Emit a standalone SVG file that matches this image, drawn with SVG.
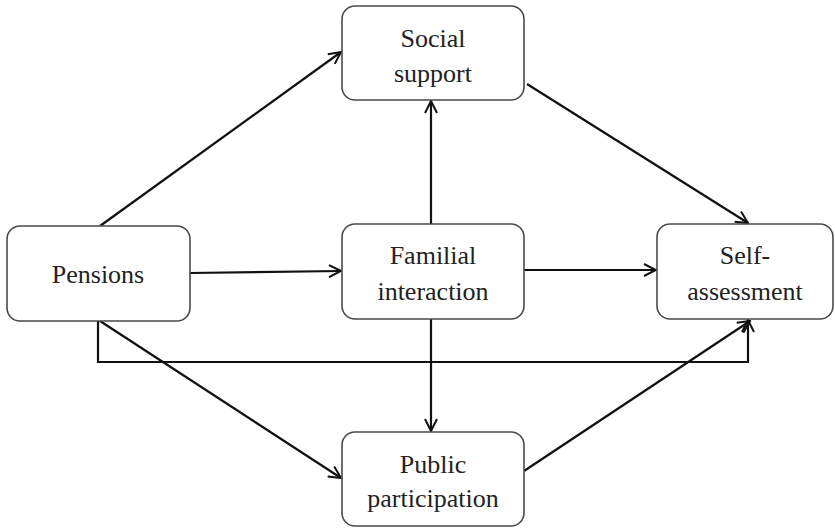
<svg xmlns="http://www.w3.org/2000/svg" width="835" height="528" viewBox="0 0 835 528">
<defs>
<marker id="arr" viewBox="0 0 14 14" refX="13" refY="7" markerWidth="14" markerHeight="14" markerUnits="userSpaceOnUse" orient="auto">
<path d="M1,1 L13,7 L1,13" fill="none" stroke="#111" stroke-width="2"/>
</marker>
</defs>
<style>
.box{fill:#fff;stroke:#4a4a4a;stroke-width:1.6}
.t{font-family:"Liberation Serif","Times New Roman",serif;font-size:26px;fill:#222;text-anchor:middle}
.c{fill:none;stroke:#111;stroke-width:2.2}
</style>
<rect width="835" height="528" fill="#fff"/>
<g id="connectors">
<line class="c" x1="100" y1="226" x2="341" y2="52" marker-end="url(#arr)"/>
<line class="c" x1="190" y1="273" x2="341" y2="271" marker-end="url(#arr)"/>
<line class="c" x1="431" y1="224" x2="431" y2="101" marker-end="url(#arr)"/>
<line class="c" x1="527" y1="84" x2="748" y2="223" marker-end="url(#arr)"/>
<line class="c" x1="524" y1="270" x2="656" y2="270" marker-end="url(#arr)"/>
<line class="c" x1="431" y1="319" x2="431" y2="431" marker-end="url(#arr)"/>
<polyline class="c" points="98,321 98,362 748,362 748,320" marker-end="url(#arr)"/>
<line class="c" x1="100" y1="321" x2="341" y2="478" marker-end="url(#arr)"/>
<line class="c" x1="524" y1="471" x2="750" y2="321" marker-end="url(#arr)"/>
</g>
<g id="pensions">
<rect class="box" x="7" y="226" width="183" height="95" rx="13"/>
<text class="t" x="98" y="283">Pensions</text>
</g>
<g id="social-support">
<rect class="box" x="342" y="6" width="182" height="94" rx="13"/>
<text class="t" x="433" y="47">Social</text>
<text class="t" x="433" y="82">support</text>
</g>
<g id="familial-interaction">
<rect class="box" x="342" y="224" width="182" height="95" rx="13"/>
<text class="t" x="433" y="264">Familial</text>
<text class="t" x="433" y="300">interaction</text>
</g>
<g id="self-assessment">
<rect class="box" x="657" y="224" width="176" height="95" rx="13"/>
<text class="t" x="745" y="264">Self-</text>
<text class="t" x="745" y="300">assessment</text>
</g>
<g id="public-participation">
<rect class="box" x="342" y="432" width="182" height="94" rx="13"/>
<text class="t" x="433" y="473">Public</text>
<text class="t" x="433" y="507">participation</text>
</g>
</svg>
